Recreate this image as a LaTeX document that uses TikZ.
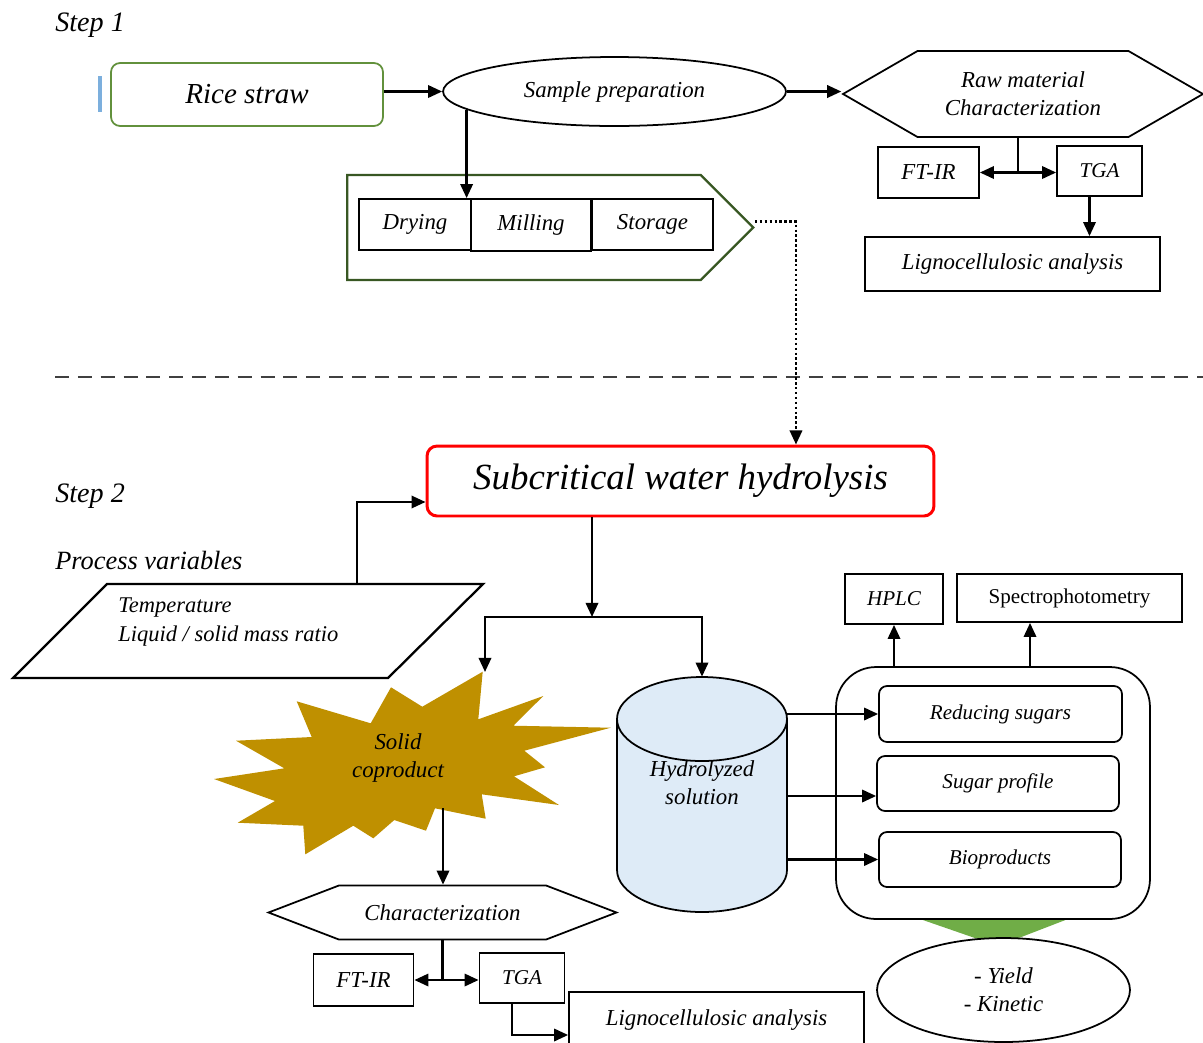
\documentclass[tikz,border=0pt]{standalone}
\usepackage{fontspec}
\setmainfont{Liberation Serif}
\usetikzlibrary{arrows.meta,shapes.geometric,shapes.symbols}
\definecolor{riceGreen}{RGB}{98,145,60}
\definecolor{padGreen}{RGB}{56,87,35}
\definecolor{hydRed}{RGB}{255,0,0}
\definecolor{solidGold}{RGB}{191,144,0}
\definecolor{cylBlue}{RGB}{222,235,247}
\definecolor{yieldGreen}{RGB}{112,173,71}
\definecolor{barBlue}{RGB}{124,175,221}
\definecolor{lineGray}{RGB}{64,64,64}

\begin{document}
\begin{tikzpicture}[x=0.02cm, y=-0.02cm,
    every node/.style={inner sep=0pt, align=center, font=\fontsize{13pt}{16pt}\selectfont\itshape},
    smalltxt/.style={font=\fontsize{12pt}{15pt}\selectfont\itshape},
    steptxt/.style={font=\fontsize{16pt}{18pt}\selectfont\itshape, anchor=west},
    box/.style={draw, line width=1pt},
    rbox/.style={box, rounded corners=0.16cm},
    hexbox/.style={box, signal, signal to=west and east},
    arr/.style={-{Triangle[length=8pt,width=7pt]}, line width=1.4pt},
    dblarr/.style={{Triangle[length=8pt,width=7pt]}-{Triangle[length=8pt,width=7pt]}, line width=1.4pt},
    dotarr/.style={arr, dash pattern=on 1.4pt off 1.4pt}]
  \useasboundingbox (0,0) rectangle (1203,1042);

  % step 1
  \node[steptxt] (step1) at (55,25) {Step 1};
  \draw[barBlue, line width=2.5pt] (100,76) -- (100,112);
  \node[box, draw=riceGreen, rounded corners=0.18cm, minimum width=5.44cm, minimum height=1.26cm,
    font=\fontsize{16.5pt}{18pt}\selectfont\itshape] (rice) at (247,94.5) {Rice straw};
  \node[box, ellipse, minimum width=6.86cm, minimum height=1.38cm] (prep) at (614.5,91.5) {Sample preparation};
  \node[hexbox, signal pointer angle=60, minimum width=7.2cm, minimum height=1.72cm] (rawchar) at (1023,94)
    {Raw material\\Characterization};
  \node[box, minimum width=2.02cm, minimum height=1.02cm] (ftirA) at (928.5,172.5) {FT-IR};
  \node[box, smalltxt, minimum width=1.7cm, minimum height=1cm] (tgaA) at (1099.5,171) {TGA};
  \node[box, minimum width=5.9cm, minimum height=1.08cm] (lignoA) at (1012.5,264) {Lignocellulosic analysis};

  % pretreatment: body 347..701, tip at 753
  \node[box, line width=1.3pt, draw=padGreen, signal, signal to=east, signal pointer angle=90,
    minimum width=8.12cm, minimum height=2.1cm] (pretreat) at (524,227.5) {};
  \node[box, minimum width=2.24cm, minimum height=1.02cm] (drying) at (415,224.5) {Drying};
  \node[box, minimum width=2.4cm, minimum height=1.04cm] (milling) at (531,225) {Milling};
  \node[box, minimum width=2.42cm, minimum height=1.02cm] (storage) at (652.5,224.5) {Storage};

  \draw[arr] (rice.east |- prep.west) -- (prep.west);
  \draw[arr] (prep.east) -- (prep.east -| rawchar.west);
  \draw[arr] (prep.187) -- (prep.187 |- drying.north);
  \draw[line width=1.4pt] ([xshift=-0.1cm]rawchar.south) -- ([xshift=-0.1cm]rawchar.south |- ftirA.east);
  \draw[dblarr] (ftirA.east) -- (ftirA.east -| tgaA.west);
  \draw[arr] ([xshift=-0.2cm]tgaA.south) -- ([xshift=-0.2cm]tgaA.south |- lignoA.north);

  % split between the steps
  \draw[lineGray, line width=1pt, dash pattern=on 8pt off 5pt] (55,377) -- (1203,377);

  % step 2
  \node[steptxt] (step2) at (55,496) {Step 2};
  \node[box, draw=hydRed, line width=1.7pt, rounded corners=0.2cm, minimum width=10.14cm, minimum height=1.4cm,
    font=\fontsize{21pt}{24pt}\selectfont\itshape] (swh) at (680.5,481) {Subcritical water hydrolysis};
  \draw[dotarr] ([yshift=0.12cm]pretreat.east) -| ([xshift=2.31cm]swh.north);

  \node[anchor=west, font=\fontsize{15pt}{17pt}\selectfont\itshape] (procvar) at (55,560) {Process variables};
  % parallelogram: top edge 107..483, bottom edge 13..388
  \draw[line width=1.3pt] (13,678) -- (107,584) -- (483,584) -- (388,678) -- cycle;
  \node[anchor=west, align=left, font=\fontsize{12.8pt}{16.5pt}\selectfont\itshape] (params) at (118,622)
    {Temperature\\Liquid / solid mass ratio};
  \coordinate (paramtop) at (357,584);
  \draw[arr] (paramtop) |- ([yshift=-0.42cm]swh.west);

  % solid coproduct
  \fill[solidGold] (482.7,671.7) -- (478.3,719.3) -- (543.3,696) -- (513.3,725.7) -- (610.7,727.7)
    -- (524.3,750.7) -- (545,767.3) -- (514,776.3) -- (559,805) -- (481.7,794.3) -- (485.7,818.7)
    -- (435,808.3) -- (426,830.7) -- (394.3,820) -- (373.3,838.3) -- (353.3,825.7) -- (305.3,854.3)
    -- (303.3,825.7) -- (237.7,822.7) -- (275,801) -- (214,779) -- (284.3,768.3) -- (236,740.7)
    -- (311.7,737) -- (296.7,701.3) -- (370.7,723.3) -- (391,687.3) -- (422.3,706.7) -- cycle;
  \node (solid) at (398,758) {Solid\\coproduct};
  \coordinate (solidtip) at (485,672);
  \coordinate (solidfoot) at (443,808);

  \node[hexbox, signal pointer angle=42, minimum width=6.96cm, minimum height=1.08cm] (charact) at (442.5,912.5)
    {Characterization};
  \node[box, minimum width=2cm, minimum height=1.03cm] (ftirB) at (363.5,980) {FT-IR};
  \node[box, smalltxt, minimum width=1.7cm, minimum height=1.01cm] (tgaB) at (522,978) {TGA};
  \node[box, minimum width=5.9cm, minimum height=1.12cm] (lignoB) at (716.5,1020) {Lignocellulosic analysis};

  % hydrolyzed solution
  \node[minimum width=3.4cm, minimum height=4.7cm] (hydro) at (702,794.5) {};
  \fill[cylBlue] (617,719) rectangle (787,870);
  \fill[cylBlue] (702,870) ellipse [x radius=85, y radius=42];
  \draw[line width=1pt, fill=cylBlue] (702,719) ellipse [x radius=85, y radius=42];
  \draw[line width=1pt] (617,719) -- (617,870) arc [start angle=180, end angle=0, x radius=85, y radius=42] -- (787,719);
  \node (hydrotxt) at (702,783) {Hydrolyzed\\solution};

  \coordinate (split) at (592,617);
  \draw[arr] (swh.south -| split) -- (split);
  \draw[arr] (split) -| (solidtip);
  \draw[arr] (split) -| (hydro.north);
  \draw[arr] (solidfoot) -- (solidfoot |- charact.north);
  \draw[line width=1.4pt] (charact.south) -- (charact.south |- ftirB.east);
  \draw[dblarr] (ftirB.east) -- (ftirB.east -| tgaB.west);
  \draw[arr] ([xshift=-0.2cm]tgaB.south) |- ([yshift=-0.3cm]lignoB.west);

  % analyses
  \fill[yieldGreen] (920,919) -- (1068,919) -- (998,946) -- cycle;
  \node[box, rounded corners=0.8cm, minimum width=6.28cm, minimum height=5.04cm] (assays) at (993,793) {};
  \node[rbox, smalltxt, minimum width=4.86cm, minimum height=1.12cm] (reduce) at (1000.5,714) {Reducing sugars};
  \node[rbox, smalltxt, minimum width=4.84cm, minimum height=1.1cm] (sugprof) at (998,783.5) {Sugar profile};
  \node[rbox, smalltxt, minimum width=4.84cm, minimum height=1.1cm] (bioprod) at (1000,859.5) {Bioproducts};
  \node[box, smalltxt, minimum width=1.96cm, minimum height=1cm] (hplc) at (894,599) {HPLC};
  \node[box, font=\fontsize{12pt}{15pt}\selectfont, minimum width=4.5cm, minimum height=0.96cm] (spectro) at (1069.5,598)
    {Spectrophotometry};
  \node[box, ellipse, fill=white, minimum width=5.06cm, minimum height=2.08cm] (yield) at (1003.5,990)
    {- Yield\\- Kinetic};

  \coordinate (sugin) at ([yshift=-0.25cm]sugprof.west);
  \coordinate (specin) at ([xshift=-0.79cm]spectro.south);
  \draw[arr] (hydro.east |- reduce.west) -- (reduce.west);
  \draw[arr] (hydro.east |- sugin) -- (sugin);
  \draw[arr] (hydro.east |- bioprod.west) -- (bioprod.west);
  \draw[arr] (hplc.south |- assays.north) -- (hplc.south);
  \draw[arr] (specin |- assays.north) -- (specin);
\end{tikzpicture}
\end{document}
